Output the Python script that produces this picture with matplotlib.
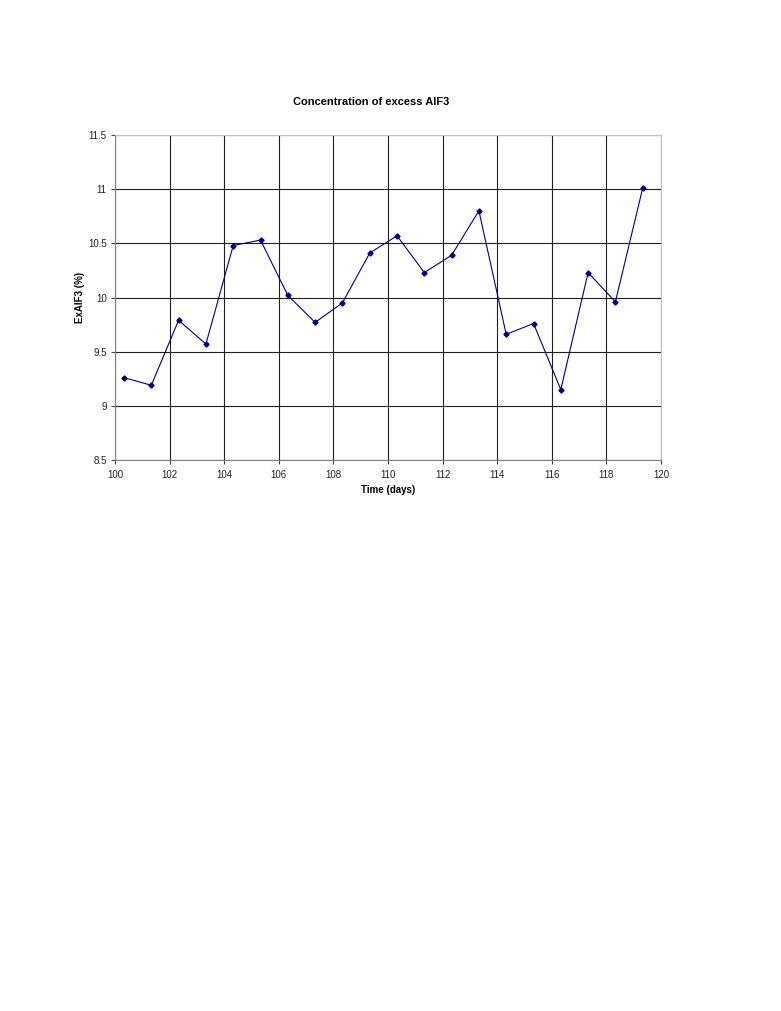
import numpy as np
import matplotlib
matplotlib.use("Agg")
import matplotlib.pyplot as plt

plt.rcParams['font.family'] = ['Liberation Sans', 'DejaVu Sans']

# time in days and excess AlF3 concentration (%)
days = [100.33, 101.33, 102.33, 103.33, 104.33, 105.33, 106.33, 107.33, 108.33, 109.33,
        110.33, 111.33, 112.33, 113.33, 114.33, 115.33, 116.33, 117.33, 118.33, 119.33]
ex_alf3 = [9.26, 9.19, 9.79, 9.57, 10.48, 10.53, 10.02, 9.77, 9.95, 10.41,
           10.57, 10.23, 10.39, 10.80, 9.66, 9.76, 9.15, 10.23, 9.96, 11.01]
x_ticks = np.arange(100, 121, 2)
y_ticks = [8.5, 9, 9.5, 10, 10.5, 11, 11.5]

fig = plt.figure(figsize=(7.81, 10.11), dpi=100)
ax = fig.add_axes([115/781, 1 - 460/1011, 546/781, 325/1011])

ax.plot(days, ex_alf3, color='#000080', lw=0.8, marker='D', ms=2.6,
        mfc='#000080', mec='#000080')

ax.set_xlim(100, 120)
ax.set_ylim(8.5, 11.5)
ax.set_xticks(x_ticks)
ax.set_yticks(y_ticks)
ax.set_yticklabels([f'{v:g}' for v in y_ticks])
ax.grid(True, color='#202020', lw=0.8)
ax.set_axisbelow(True)
ax.tick_params(labelsize=7, length=3, width=0.8, color='#404040',
               labelcolor='#202020')
ax.tick_params(axis='x', pad=4)
ax.tick_params(axis='y', pad=3)

for s in ['top', 'right']:
    ax.spines[s].set_color('#c0c0c0')
for s in ['left', 'bottom']:
    ax.spines[s].set_color('#808080')

ax.set_xlabel('Time (days)', fontsize=7, fontweight='bold', labelpad=4)
ax.set_ylabel('ExAlF3 (%)', fontsize=7, fontweight='bold', labelpad=2)
fig.text(371/781, 1 - 102/1011, 'Concentration of excess AlF3', fontsize=8,
         fontweight='bold', ha='center', va='center')

fig.savefig('out.png', dpi=100)
